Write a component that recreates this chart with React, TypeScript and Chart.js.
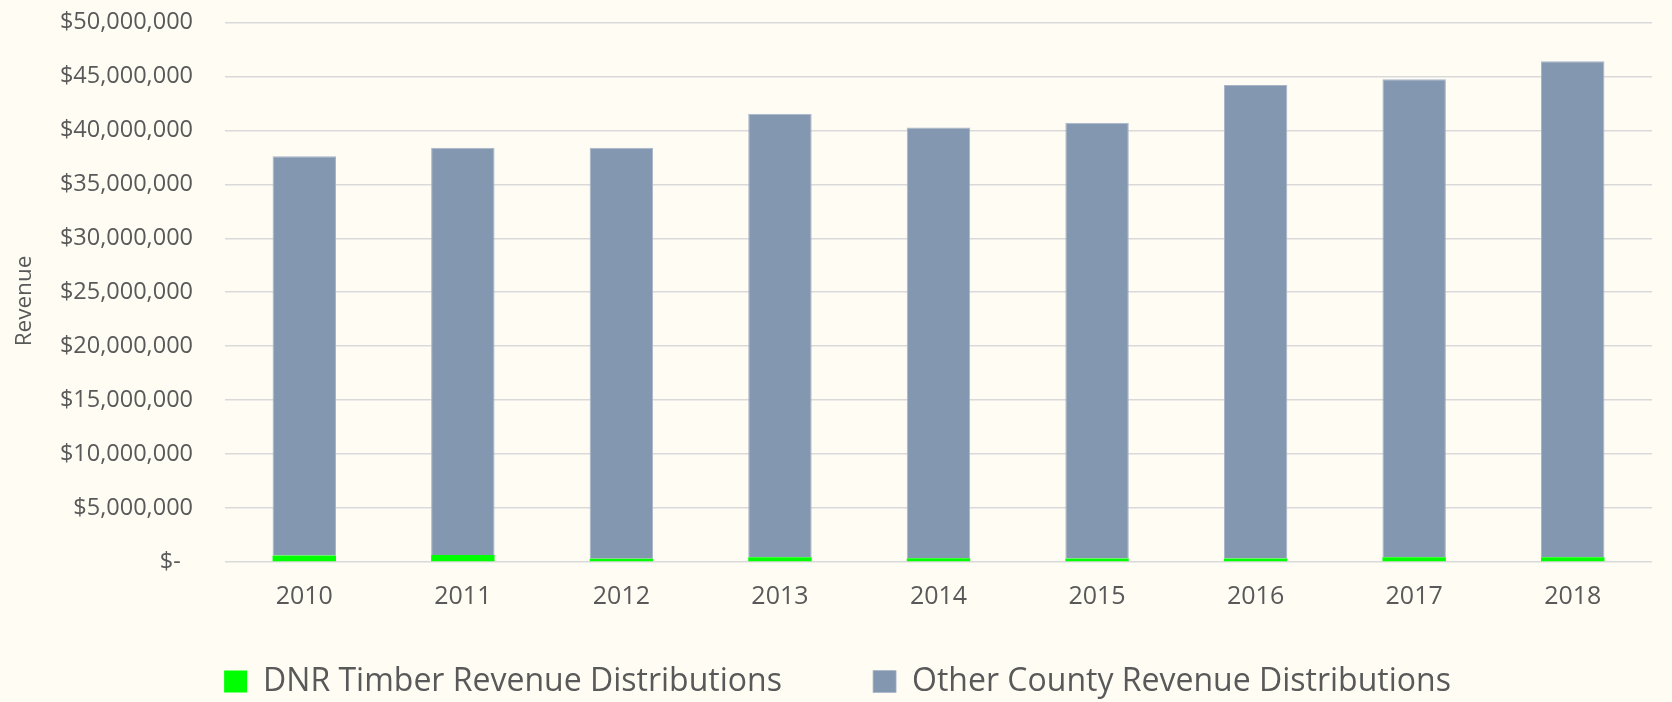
import React, { useEffect, useRef } from 'react';
import { Chart, registerables } from 'chart.js';

Chart.register(...registerables);

const categories = ['2010', '2011', '2012', '2013', '2014', '2015', '2016', '2017', '2018'];
const dnrTimber = [600000, 650000, 300000, 440000, 340000, 320000, 320000, 440000, 440000];
const otherCounty = [37000000, 37750000, 38100000, 41110000, 39930000, 40380000, 43880000, 44300000, 45960000];
const seriesNames = ['DNR Timber Revenue Distributions', 'Other County Revenue Distributions'];
const yAxisTitle = 'Revenue';
const yMax = 50000000;
const yStep = 5000000;

const BG = '#FFFCF4';
const TEXT = '#595959';
const FONT = "'Open Sans', 'DejaVu Sans', sans-serif";

export default function App() {
  const ref = useRef<HTMLCanvasElement>(null);

  useEffect(() => {
    document.body.style.margin = '0';
    const bgPlugin = {
      id: 'bgFill',
      beforeDraw(c: any) {
        const ctx = c.ctx;
        ctx.save();
        ctx.fillStyle = BG;
        ctx.fillRect(0, 0, c.width, c.height);
        ctx.restore();
      },
    };
    const defaultLabels = (Chart as any).defaults.plugins.legend.labels.generateLabels;
    const chart = new Chart(ref.current as HTMLCanvasElement, {
      type: 'bar',
      data: {
        labels: categories,
        datasets: [
          {
            label: seriesNames[0],
            data: dnrTimber,
            backgroundColor: '#00FF00',
            borderWidth: 0,
            barPercentage: 0.4,
            categoryPercentage: 1,
          },
          {
            label: seriesNames[1],
            data: otherCounty,
            backgroundColor: '#8497B0',
            borderColor: '#A7B5C8',
            borderWidth: { left: 1, right: 1, top: 1, bottom: 0 },
            barPercentage: 0.4,
            categoryPercentage: 1,
          },
        ],
      },
      options: {
        responsive: false,
        animation: false,
        layout: { padding: { top: 22.5, left: 3, right: 0, bottom: -5.5 } },
        plugins: {
          tooltip: { enabled: false },
          legend: {
            position: 'bottom',
            labels: {
              boxWidth: 23,
              boxHeight: 22,
              padding: 33,
              color: TEXT,
              font: { family: FONT, size: 32 },
              generateLabels: (c: any) => {
                const items = defaultLabels(c);
                return items.map((it: any, i: number) =>
                  i < items.length - 1 ? { ...it, text: it.text + '       ' } : it
                );
              },
            },
          },
        },
        scales: {
          x: {
            stacked: true,
            grid: { display: false, drawTicks: false },
            border: { display: false },
            ticks: { color: TEXT, font: { family: FONT, size: 25 }, padding: 20.3 },
            afterFit: (s: any) => {
              s.paddingRight = 20;
            },
          },
          y: {
            stacked: true,
            min: 0,
            max: yMax,
            grid: { color: '#D9D9D9', lineWidth: 1.5, drawTicks: false },
            border: { display: false },
            ticks: {
              stepSize: yStep,
              padding: 32,
              color: TEXT,
              font: { family: FONT, size: 23.5 },
              callback: (v: any) => (Number(v) === 0 ? '$-  ' : '$' + Number(v).toLocaleString('en-US')),
            },
            title: {
              display: true,
              text: yAxisTitle + '   ',
              color: TEXT,
              font: { family: FONT, size: 22.5 },
              padding: { top: 8, bottom: 0 },
            },
            afterFit: (s: any) => {
              s.width = 222;
              s.paddingTop = 8;
              s.paddingBottom = 8;
            },
          },
        },
      },
      plugins: [bgPlugin],
    });
    return () => chart.destroy();
  }, []);

  return (
    <div style={{ width: 1672, height: 702, background: BG }}>
      <canvas ref={ref} width={1672} height={702} style={{ display: 'block' }} />
    </div>
  );
}
